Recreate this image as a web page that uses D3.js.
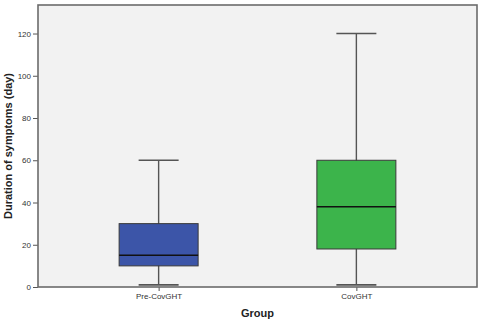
<!DOCTYPE html>
<html>
<head>
<meta charset="utf-8">
<script src="https://cdn.jsdelivr.net/npm/d3@7"></script>
<style>
  body { margin: 0; background: #fff; }
  svg { display: block; font-family: Arial, "Liberation Sans", sans-serif; }
</style>
</head>
<body>
<div id="chart"></div>
<script>
// box plot summaries
const groups = ["Pre-CovGHT", "CovGHT"];
const mins = [1, 1];
const q1s = [10, 18];
const medians = [15, 38];
const q3s = [30, 60];
const maxs = [60, 120];
const colors = ["#3c55a8", "#3cb44b"];
const yTicks = [0, 20, 40, 60, 80, 100, 120];

const width = 480, height = 323;
const margin = { top: 5, right: 3, bottom: 36, left: 38 };

const svg = d3.select("#chart")
  .append("svg")
    .attr("width", width)
    .attr("height", height);

const y = d3.scaleLinear()
  .domain([0, 133.5])
  .range([height - margin.bottom, margin.top]);

const x = d3.scalePoint()
  .domain(groups)
  .range([margin.left, width - margin.right])
  .padding(0.61);

const boxW = 79;
const capW = 40;

// plot background
svg.append("rect")
  .attr("x", margin.left)
  .attr("y", margin.top)
  .attr("width", width - margin.left - margin.right)
  .attr("height", height - margin.top - margin.bottom)
  .attr("fill", "#f2f2f2");

const data = groups.map((g, i) => ({
  g, min: mins[i], q1: q1s[i], med: medians[i], q3: q3s[i], max: maxs[i], c: colors[i]
}));

const box = svg.selectAll("g.box")
  .data(data)
  .enter()
  .append("g")
    .attr("class", "box");

// whisker line
box.append("line")
  .attr("x1", d => x(d.g)).attr("x2", d => x(d.g))
  .attr("y1", d => y(d.min)).attr("y2", d => y(d.max))
  .attr("stroke", "#555").attr("stroke-width", 1.4);

// caps
box.selectAll("line.cap")
  .data(d => [d.min, d.max].map(v => ({ g: d.g, v })))
  .enter()
  .append("line")
    .attr("class", "cap")
    .attr("x1", d => x(d.g) - capW / 2).attr("x2", d => x(d.g) + capW / 2)
    .attr("y1", d => y(d.v)).attr("y2", d => y(d.v))
    .attr("stroke", "#555").attr("stroke-width", 1.6);

// box
box.append("rect")
  .attr("x", d => x(d.g) - boxW / 2)
  .attr("y", d => y(d.q3))
  .attr("width", boxW)
  .attr("height", d => y(d.q1) - y(d.q3))
  .attr("fill", d => d.c)
  .attr("stroke", "#3a3a3a")
  .attr("stroke-width", 1);

// median
box.append("line")
  .attr("x1", d => x(d.g) - boxW / 2).attr("x2", d => x(d.g) + boxW / 2)
  .attr("y1", d => y(d.med)).attr("y2", d => y(d.med))
  .attr("stroke", "#111").attr("stroke-width", 1.5);

// axes
const yAxis = svg.append("g")
  .attr("transform", `translate(${margin.left},0)`)
  .call(d3.axisLeft(y).tickValues(yTicks).tickSize(5).tickPadding(2));

const xAxis = svg.append("g")
  .attr("transform", `translate(0,${height - margin.bottom})`)
  .call(d3.axisBottom(x).tickSize(4).tickPadding(2));

[yAxis, xAxis].forEach(a => {
  a.select(".domain").remove();
  a.selectAll("line").attr("stroke", "#555");
  a.selectAll("text").attr("fill", "#333").style("font-size", "8px");
});

// frame
svg.append("rect")
  .attr("x", margin.left)
  .attr("y", margin.top)
  .attr("width", width - margin.left - margin.right)
  .attr("height", height - margin.top - margin.bottom)
  .attr("fill", "none")
  .attr("stroke", "#6b6b6b")
  .attr("stroke-width", 1.6);

// axis titles
svg.append("text")
  .attr("transform", `translate(9,${(margin.top + height - margin.bottom) / 2}) rotate(-90)`)
  .attr("text-anchor", "middle")
  .attr("dominant-baseline", "middle")
  .style("font-size", "11px")
  .style("font-weight", "bold")
  .attr("fill", "#222")
  .text("Duration of symptoms (day)");

svg.append("text")
  .attr("x", (margin.left + width - margin.right) / 2)
  .attr("y", 317)
  .attr("text-anchor", "middle")
  .style("font-size", "11px")
  .style("font-weight", "bold")
  .attr("fill", "#222")
  .text("Group");
</script>
</body>
</html>
